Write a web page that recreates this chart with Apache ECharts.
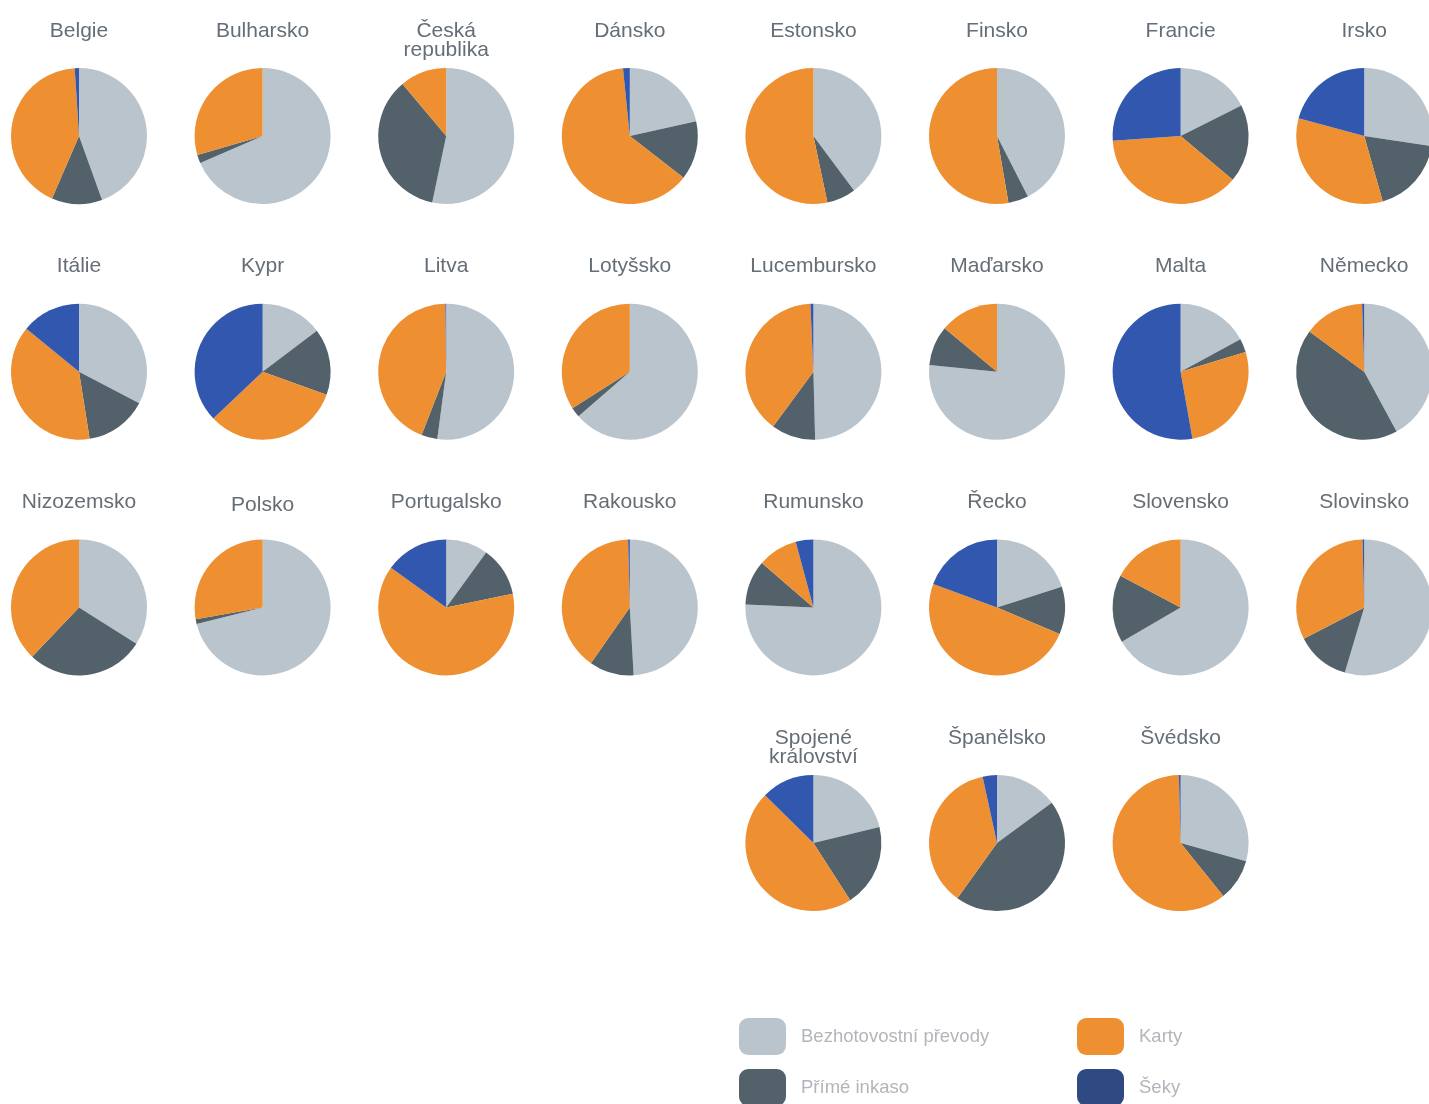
<!DOCTYPE html>
<html>
<head>
<meta charset="utf-8">
<script src="https://cdn.jsdelivr.net/npm/echarts@6/dist/echarts.min.js"></script>
<style>
  html, body { margin: 0; padding: 0; background: #fff; }
  #main { width: 1429px; height: 1104px; }
</style>
</head>
<body>
<div id="main"></div>
<script>
// zeme (poradi v mrizce)
var zeme = ['Belgie', 'Bulharsko', 'Česká\nrepublika', 'Dánsko', 'Estonsko', 'Finsko', 'Francie', 'Irsko',
  'Itálie', 'Kypr', 'Litva', 'Lotyšsko', 'Lucembursko', 'Maďarsko', 'Malta', 'Německo',
  'Nizozemsko', 'Polsko', 'Portugalsko', 'Rakousko', 'Rumunsko', 'Řecko', 'Slovensko', 'Slovinsko',
  'Spojené\nkrálovství', 'Španělsko', 'Švédsko'];

var kategorie = ['Bezhotovostní převody', 'Přímé inkaso', 'Karty', 'Šeky'];

// podily v %
var prevody = [44.5, 68.5, 53.3, 21.5, 39.8, 42.5, 17.6, 27.4,
  32.7, 14.7, 52.1, 63.6, 49.6, 76.6, 17.1, 42.1,
  34.0, 71.1, 10.0, 49.1, 75.7, 20.1, 66.6, 54.6,
  21.2, 14.9, 29.3];
var inkaso = [12.0, 2.0, 35.6, 14.0, 6.9, 4.8, 18.5, 18.2,
  14.8, 15.8, 3.8, 2.4, 10.5, 9.4, 3.2, 43.0,
  28.1, 1.1, 11.8, 10.6, 10.6, 11.3, 16.1, 12.8,
  19.7, 45.0, 9.9];
var karty = [42.5, 29.5, 11.1, 62.9, 53.3, 52.7, 37.8, 33.6,
  38.4, 32.4, 43.9, 34.0, 39.2, 14.0, 26.9, 14.4,
  37.9, 27.8, 63.1, 39.9, 9.5, 49.2, 17.3, 32.2,
  46.5, 36.7, 60.4];
var seky = [1.0, 0, 0, 1.6, 0, 0, 26.1, 20.8,
  14.1, 37.1, 0.2, 0, 0.7, 0, 52.8, 0.5,
  0, 0, 15.1, 0.4, 4.2, 19.4, 0, 0.4,
  12.6, 3.4, 0.4];

var barvy = ['#BAC4CC', '#52616A', '#EE8F31', '#3157AE'];

var chart = echarts.init(document.getElementById('main'));

// mrizka: 8 sloupcu, posledni radek zacina ve 5. sloupci
var colX = function (c) { return 79 + 183.6 * c; };
var rowY = function (r) { return 136 + 235.7 * r; };

var series = [];
var texty = [];
for (var i = 0; i < zeme.length; i++) {
  var r = Math.floor(i / 8);
  var c = i % 8;
  if (r === 3) c = c + 4;
  var cx = colX(c), cy = rowY(r);
  series.push({
    type: 'pie',
    name: zeme[i],
    center: [cx, cy],
    radius: 68,
    startAngle: 90,
    clockwise: true,
    label: { show: false },
    labelLine: { show: false },
    emphasis: { disabled: true },
    itemStyle: { borderWidth: 0 },
    data: [
      { name: kategorie[0], value: prevody[i] },
      { name: kategorie[1], value: inkaso[i] },
      { name: kategorie[2], value: karty[i] },
      { name: kategorie[3], value: seky[i] }
    ]
  });
  texty.push({
    type: 'text',
    x: cx,
    y: cy - 105 + (zeme[i] === 'Polsko' ? 3 : 0),
    style: {
      text: zeme[i],
      fontSize: 21,
      fontFamily: 'Liberation Sans, Arial, sans-serif',
      fill: '#656E76',
      align: 'center',
      verticalAlign: 'middle',
      lineHeight: 19
    }
  });
}
// dvouradkove nazvy: posunout o polovinu radku dolu, aby 1. radek sedel
texty.forEach(function (t) {
  if (t.style.text.indexOf('\n') >= 0) t.y += 9.5;
});

var legendStyle = {
  orient: 'vertical',
  top: 1018,
  height: 140,
  padding: 0,
  itemWidth: 47,
  itemHeight: 37,
  itemGap: 14,
  icon: 'roundRect',
  selectedMode: false,
  textStyle: {
    fontSize: 18.5,
    fontFamily: 'Liberation Sans, Arial, sans-serif',
    color: '#B1B6BB',
    padding: [5, 0, 0, 10]
  }
};

var option = {
  animation: false,
  color: barvy,
  tooltip: { show: false },
  legend: [
    Object.assign({}, legendStyle, { left: 739, data: [kategorie[0], kategorie[1]] }),
    Object.assign({}, legendStyle, { left: 1077, data: [kategorie[2], { name: kategorie[3], itemStyle: { color: '#2F4A82' } }] })
  ],
  graphic: texty,
  series: series
};

chart.setOption(option);
</script>
</body>
</html>
